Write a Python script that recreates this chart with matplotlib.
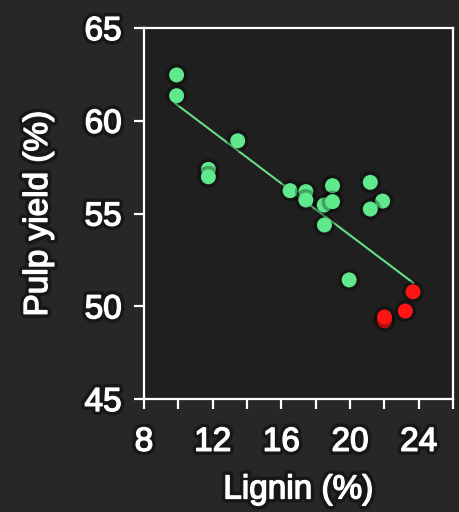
import numpy as np
import matplotlib.pyplot as plt
import matplotlib.patheffects as pe

# green samples (lignin %, pulp yield %)
green_lignin = [9.9, 9.9, 13.46, 11.75, 11.75, 16.51, 17.43, 17.43, 18.98, 18.50,
                18.98, 21.18, 21.90, 21.18, 18.51, 19.95]
green_yield = [62.47, 61.35, 58.92, 57.38, 56.98, 56.23, 56.18, 55.73, 56.50, 55.46,
               55.64, 56.68, 55.67, 55.24, 54.38, 51.42]

# red samples
red_lignin = [23.67, 23.22, 22.01, 22.01]
red_yield = [50.78, 49.74, 49.22, 49.42]

# trend line as shown (yield = slope * lignin + intercept)
fit_slope = -0.698
fit_intercept = 67.79

green = "#5fe88c"
red = "#ff1414"
bg = "#272727"

plt.rcParams['font.family'] = ['Liberation Sans', 'DejaVu Sans']
halo = [pe.withStroke(linewidth=6, foreground="black", alpha=0.4),
        pe.withStroke(linewidth=1.0, foreground="white")]
dot_halo = [pe.withStroke(linewidth=5, foreground="black", alpha=0.3)]

fig = plt.figure(figsize=(4.59, 5.12), dpi=100, facecolor=bg)
ax = fig.add_axes([0.3137, 0.2207, 0.6733, 0.7246])
ax.set_facecolor("#1f1f1f")

all_x = np.array(green_lignin + red_lignin)
xs = np.array([all_x.min() - 0.1, all_x.max()])
ax.plot(xs, fit_slope * xs + fit_intercept, color="#66dd88", linewidth=1.5, zorder=2)

ax.scatter(green_lignin, green_yield, s=115, color=green, edgecolors="none", zorder=3,
           path_effects=dot_halo)
ax.scatter(red_lignin, red_yield, s=115, color=red, edgecolors="none", zorder=3,
           path_effects=dot_halo)

ax.set_xlim(8, 26)
ax.set_ylim(45, 65)
ax.set_xticks([8, 12, 16, 20, 24])
ax.set_xticks([10, 14, 18, 22, 26], minor=True)
ax.set_yticks([45, 50, 55, 60, 65])

for s in ax.spines.values():
    s.set_color("white")
    s.set_linewidth(1.6)

ax.tick_params(axis="both", which="both", colors="white", direction="out",
               length=7, width=1.6, labelsize=24)
ax.tick_params(axis="x", pad=13)
ax.tick_params(axis="y", pad=9)
for lab in ax.get_xticklabels() + ax.get_yticklabels():
    lab.set_path_effects(halo)

ax.set_xlabel("Lignin (%)", color="white", fontsize=24, labelpad=12, path_effects=halo)
ax.set_ylabel("Pulp yield (%)", color="white", fontsize=24, labelpad=22, path_effects=halo)

fig.savefig("out.png", dpi=100, facecolor=bg)
